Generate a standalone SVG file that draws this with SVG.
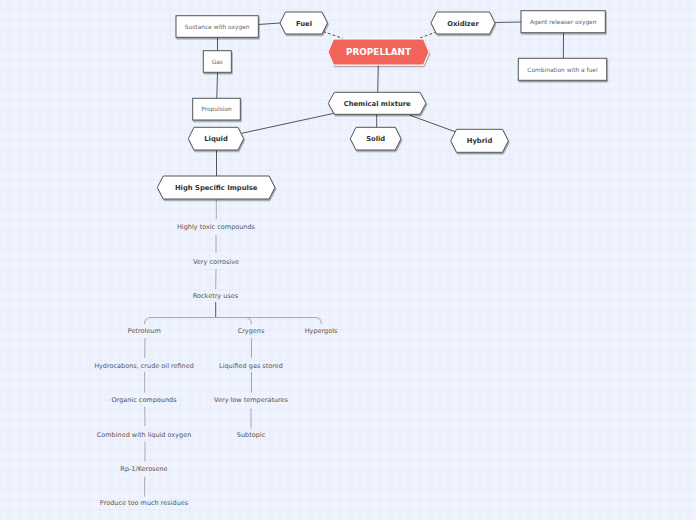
<svg xmlns="http://www.w3.org/2000/svg" width="696" height="520" viewBox="0 0 696 520">
<defs>
<pattern id="grid" x="9.5" y="9.5" width="10" height="10" patternUnits="userSpaceOnUse">
<path d="M0,0 H10 M0,0 V10" stroke="#dfe4f3" stroke-width="1" fill="none"/>
</pattern>
<filter id="sh" x="-10%" y="-20%" width="130%" height="160%">
<feDropShadow dx="0.8" dy="1.5" stdDeviation="0.6" flood-color="#000" flood-opacity="0.35"/>
</filter>
</defs>
<style>
.hex{fill:#fff;stroke:#555;stroke-width:1;filter:url(#sh)}
.box{fill:#fff;stroke:#555;stroke-width:1;filter:url(#sh)}
.ht{font-family:"DejaVu Sans",Verdana,sans-serif;font-weight:bold;font-size:6.8px;fill:#333;text-anchor:middle}
.bt{font-family:"DejaVu Sans",Verdana,sans-serif;font-size:5.9px;fill:#666;text-anchor:middle}
.pt{font-family:"DejaVu Sans",Verdana,sans-serif;font-size:6.5px;fill:#555;text-anchor:middle}
.ln{stroke:#555;stroke-width:1;fill:none}
.dl{stroke:#555;stroke-width:1;fill:none;stroke-dasharray:3,2}
.gl{stroke:#a8a8b2;stroke-width:1;fill:none}
</style>
<rect width="696" height="520" fill="#eff3fd"/>
<rect width="696" height="520" fill="url(#grid)"/>

<g id="connectors">
<line class="ln" x1="258" y1="24.5" x2="280" y2="23"/>
<line class="ln" x1="217.5" y1="37" x2="217.5" y2="51"/>
<line class="ln" x1="217.5" y1="72" x2="216.8" y2="98.5"/>
<line class="dl" x1="323" y1="31.5" x2="343" y2="38.5"/>
<line class="dl" x1="420" y1="38" x2="436" y2="32"/>
<line class="ln" x1="495" y1="22.5" x2="521" y2="22"/>
<line class="ln" x1="563.5" y1="32.5" x2="563.3" y2="58.5"/>
<line class="ln" x1="378.3" y1="65" x2="377.7" y2="92.5"/>
<line class="ln" x1="334" y1="113.3" x2="241.7" y2="133.3"/>
<line class="ln" x1="376.7" y1="114" x2="376.7" y2="127.5"/>
<line class="ln" x1="410" y1="115.3" x2="455" y2="131.7"/>
<line class="ln" x1="216.5" y1="150" x2="216.5" y2="176"/>
<line class="gl" x1="216.3" y1="199" x2="216.3" y2="219"/>
<line class="gl" x1="216" y1="235" x2="216" y2="253"/>
<line class="gl" x1="216" y1="269" x2="215.7" y2="289"/>
<line class="ln" x1="215.7" y1="302" x2="215.7" y2="317.5"/>
<path class="gl" d="M144.5,324 Q144.5,317.5 151,317.5 L315,317.5 Q321.5,317.5 321.5,324"/>
<path class="gl" d="M245,317.5 Q251.5,317.5 251.5,324"/>
<line class="gl" x1="145" y1="338" x2="144.7" y2="358"/>
<line class="gl" x1="144.7" y1="371.7" x2="144.7" y2="392.7"/>
<line class="gl" x1="144.7" y1="406.7" x2="145" y2="426"/>
<line class="gl" x1="145" y1="441.7" x2="145" y2="461.7"/>
<line class="gl" x1="144.7" y1="476.7" x2="144.7" y2="496.7"/>
<line class="gl" x1="251.5" y1="338" x2="251.5" y2="358"/>
<line class="gl" x1="251.5" y1="371.7" x2="251.5" y2="392.7"/>
<line class="gl" x1="251" y1="408.3" x2="251" y2="428.3"/>
</g>

<g id="propellant">
<polygon points="328,52 333.5,39 423.5,39 429,52 423.5,65 333.5,65" fill="#f2635a" stroke="#fff" stroke-width="1" filter="url(#sh)"/>
<text x="378.5" y="55.3" font-family="DejaVu Sans,Verdana,sans-serif" font-weight="bold" font-size="8.9px" fill="#fff" text-anchor="middle">PROPELLANT</text>
</g>
<g id="fuel">
<polygon class="hex" points="280,23 285.5,12 322,12 327.5,23 322,34 285.5,34"/>
<text class="ht" x="304" y="25.5">Fuel</text>
</g>
<g id="oxidizer">
<polygon class="hex" points="431,23 436.5,12 489.5,12 495,23 489.5,34 436.5,34"/>
<text class="ht" x="463" y="25.5">Oxidizer</text>
</g>
<g id="sustance">
<rect class="box" x="176" y="15.7" width="82.3" height="21.6"/>
<text class="bt" x="217.2" y="28.6">Sustance with oxygen</text>
</g>
<g id="gas">
<rect class="box" x="203.3" y="50.7" width="28" height="21.6"/>
<text class="bt" x="217.3" y="63.6">Gas</text>
</g>
<g id="propulsion">
<rect class="box" x="192.7" y="98.3" width="47.6" height="21.7"/>
<text class="bt" x="216.5" y="111.2">Propulsion</text>
</g>
<g id="agent">
<rect class="box" x="521" y="10.7" width="84.3" height="22"/>
<text class="bt" x="563.2" y="23.8">Agent releaser oxygen</text>
</g>
<g id="combination">
<rect class="box" x="518.3" y="58.3" width="88.4" height="22"/>
<text class="bt" x="562.5" y="71.6">Combination with a fuel</text>
</g>
<g id="chemical">
<polygon class="hex" points="328.3,103.3 334.3,92.3 420,92.3 426,103.3 420,114.3 334.3,114.3"/>
<text class="ht" x="377.2" y="105.8">Chemical mixture</text>
</g>
<g id="liquid">
<polygon class="hex" points="188.3,138.7 194,127.3 238,127.3 243.7,138.7 238,150 194,150"/>
<text class="ht" x="216" y="141.3">Liquid</text>
</g>
<g id="solid">
<polygon class="hex" points="350.3,138.7 356,127.3 395.3,127.3 401,138.7 395.3,150 356,150"/>
<text class="ht" x="375.7" y="141.3">Solid</text>
</g>
<g id="hybrid">
<polygon class="hex" points="450.7,140.8 456.5,129.3 502.5,129.3 508.3,140.8 502.5,152.3 456.5,152.3"/>
<text class="ht" x="479.5" y="143.3">Hybrid</text>
</g>
<g id="highimpulse">
<polygon class="hex" points="157.3,187.5 163.3,176 269,176 275,187.5 269,199 163.3,199"/>
<text class="ht" x="216.2" y="190">High Specific Impulse</text>
</g>
<g id="toxic"><text class="pt" x="216" y="228.5">Highly toxic compounds</text></g>
<g id="corrosive"><text class="pt" x="216" y="263.5">Very corrosive</text></g>
<g id="rocketry"><text class="pt" x="215.5" y="297.7">Rocketry uses</text></g>
<g id="petroleum"><text class="pt" x="144.3" y="332.6">Petroleum</text></g>
<g id="crygens"><text class="pt" x="251" y="332.6">Crygens</text></g>
<g id="hypergols"><text class="pt" x="321" y="332.6">Hypergols</text></g>
<g id="hydrocabons"><text class="pt" x="144" y="367.6">Hydrocabons, crude oil refined</text></g>
<g id="liquified"><text class="pt" x="251" y="367.6">Liquified gas stored</text></g>
<g id="organic"><text class="pt" x="144" y="401.6">Organic compounds</text></g>
<g id="verylow"><text class="pt" x="251" y="401.6">Very low temperatures</text></g>
<g id="combined"><text class="pt" x="144" y="436.6">Combined with liquid oxygen</text></g>
<g id="subtopic"><text class="pt" x="251" y="436.6">Subtopic</text></g>
<g id="rp1"><text class="pt" x="144" y="470.6">Rp-1/Kerosene</text></g>
<g id="produce"><text class="pt" x="144" y="505.3">Produce too much residues</text></g>
</svg>
